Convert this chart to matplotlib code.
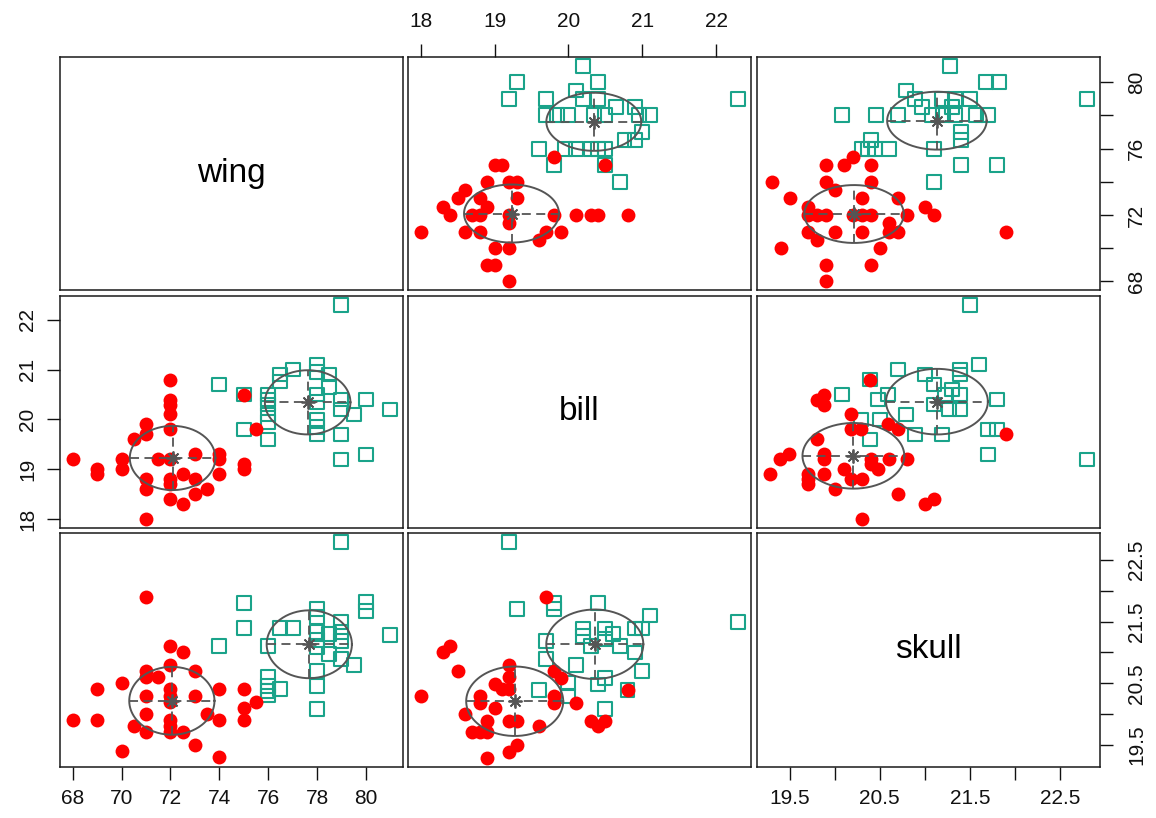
import numpy as np
import matplotlib
matplotlib.use("Agg")
import matplotlib.pyplot as plt

plt.rcParams["font.family"] = ["Liberation Sans", "DejaVu Sans"]

VARS = ["wing", "bill", "skull"]
RED = "#FF0000"
TEAL = "#1AA38A"
GREY = "#555555"

# wing vs bill
wb_red_wing = [68, 69, 69, 70, 70, 70.5, 71, 71, 71, 71, 71, 71.5, 72, 72, 72, 72, 72, 72, 72, 72, 72,
               72.5, 72.5, 73, 73, 73, 73.5, 74, 74, 74, 75, 75, 75, 75.5]
wb_red_bill = [19.2, 19.0, 18.9, 19.2, 19.0, 19.6, 19.9, 19.7, 18.8, 18.6, 18.0, 19.2, 20.8, 20.4, 20.3,
               20.1, 19.8, 19.2, 18.8, 18.7, 18.4, 18.9, 18.3, 19.3, 18.8, 18.5, 18.6, 19.3, 19.2, 18.9,
               19.1, 19.0, 20.5, 19.8]
wb_teal_wing = [79, 74, 75, 75, 76, 76, 76, 76, 76, 76, 76.5, 76.5, 77, 78, 78, 78, 78, 78, 78, 78, 78.5,
                78.5, 79, 79, 79, 79, 79.5, 80, 80, 81]
wb_teal_bill = [22.3, 20.7, 20.5, 19.8, 20.5, 20.4, 20.3, 20.1, 19.95, 19.6, 20.9, 20.76, 21.0, 21.1, 20.95,
                20.5, 20.35, 20.0, 19.85, 19.7, 20.9, 20.65, 20.4, 20.2, 19.7, 19.2, 20.1, 20.4, 19.3, 20.2]

# wing vs skull
ws_red_wing = [68, 69, 69, 70, 70, 70.5, 71, 71, 71, 71, 71, 71, 71.5, 72, 72, 72, 72, 72, 72, 72, 72,
               72.5, 72.5, 73, 73, 73, 73.5, 74, 74, 74, 75, 75, 75, 75.5]
ws_red_skull = [19.9, 20.4, 19.9, 20.5, 19.4, 19.8, 21.9, 20.7, 20.6, 20.3, 20.0, 19.7, 20.6, 21.1, 20.8,
                20.4, 20.3, 20.2, 19.9, 19.8, 19.7, 21.0, 19.7, 20.7, 20.3, 19.5, 20.0, 20.4, 19.9, 19.3,
                20.4, 20.1, 19.9, 20.2]
ws_teal_wing = [79, 75, 75, 74, 76, 76, 76, 76, 76.5, 76, 76.5, 77, 78, 78, 78, 78, 78, 78, 78, 78,
                78.5, 78.5, 79, 79, 79, 79, 79.5, 80, 80, 81]
ws_teal_skull = [22.8, 21.8, 21.4, 21.1, 20.6, 20.45, 20.37, 20.3, 20.4, 21.1, 21.4, 21.4, 21.7, 21.57,
                 21.33, 21.2, 21.08, 20.7, 20.46, 20.08, 21.3, 20.97, 21.5, 21.33, 21.19, 20.89, 20.79,
                 21.82, 21.68, 21.28]

# bill vs skull
bs_red_bill = [18.0, 18.3, 18.4, 18.5, 18.6, 18.7, 18.8, 18.8, 18.8, 18.9, 18.9, 18.9, 19.0, 19.0, 19.1,
               19.2, 19.2, 19.2, 19.2, 19.3, 19.3, 19.2, 19.6, 19.7, 19.8, 19.8, 19.8, 19.9, 20.1, 20.3,
               20.4, 20.5, 20.8]
bs_red_skull = [20.3, 21.0, 21.1, 20.7, 20.0, 19.7, 20.3, 20.18, 19.7, 19.88, 19.7, 19.28, 20.48, 20.1,
                20.4, 20.8, 20.6, 19.88, 19.39, 19.88, 19.49, 20.4, 19.8, 21.9, 20.7, 20.29, 20.18, 20.59,
                20.18, 19.88, 19.8, 19.88, 20.39]
bs_teal_bill = [19.2, 19.3, 19.8, 19.8, 19.7, 19.7, 19.6, 20.0, 20.0, 20.1, 20.2, 20.2, 20.3, 20.4, 20.4,
                20.5, 20.5, 20.5, 20.5, 20.6, 20.7, 20.8, 20.9, 20.9, 21.0, 21.0, 21.1, 22.3]
bs_teal_skull = [22.8, 21.7, 21.8, 21.7, 21.19, 20.89, 20.39, 20.5, 20.29, 20.79, 21.39, 21.27, 21.1, 21.8,
                 20.48, 21.39, 21.22, 20.59, 20.08, 21.3, 21.1, 20.39, 21.39, 21.0, 21.39, 20.7, 21.6, 21.5]

PAIRS = {
    (0, 1): [(wb_red_wing, wb_red_bill), (wb_teal_wing, wb_teal_bill)],
    (0, 2): [(ws_red_wing, ws_red_skull), (ws_teal_wing, ws_teal_skull)],
    (1, 2): [(bs_red_bill, bs_red_skull), (bs_teal_bill, bs_teal_skull)],
}

wing_ticks = [68, 70, 72, 74, 76, 78, 80]
bill_ticks = [18, 19, 20, 21, 22]
skull_ticks = [19.5, 20, 20.5, 21, 21.5, 22, 22.5]


def var_lims():
    vals = {0: [], 1: [], 2: []}
    for (a, b), groups in PAIRS.items():
        for xs, ys in groups:
            vals[a] += list(xs)
            vals[b] += list(ys)
    lims = {}
    for k, v in vals.items():
        lo, hi = min(v), max(v)
        pad = 0.04 * (hi - lo)
        lims[k] = (lo - pad, hi + pad)
    return lims


LIMS = var_lims()


def pooled_sd(groups):
    # within-group spread, pooled over the two groups
    dev = []
    for xs, ys in groups:
        d = np.column_stack([xs, ys]).astype(float)
        dev.append(d - d.mean(axis=0))
    dev = np.vstack(dev)
    return np.sqrt((dev ** 2).sum(axis=0) / (len(dev) - len(groups)))


def draw_ellipse(ax, xs, ys, sd):
    mx, my = np.mean(xs), np.mean(ys)
    sx, sy = sd
    t = np.linspace(0, 2 * np.pi, 200)
    ax.plot(mx + sx * np.cos(t), my + sy * np.sin(t), color=GREY, lw=1.4, zorder=4)
    ax.plot([mx - sx, mx + sx], [my, my], color=GREY, lw=1.3, ls=(0, (5, 3)), zorder=4)
    ax.plot([mx, mx], [my - sy, my + sy], color=GREY, lw=1.3, ls=(0, (5, 3)), zorder=4)
    ax.plot(mx, my, marker=(8, 2, 0), ms=10, mew=1.3, color=GREY, zorder=5)


def set_ticks(ax, axis, var, labels_every=1, pad=8):
    ticks = [wing_ticks, bill_ticks, skull_ticks][var]
    labels = []
    for k, v in enumerate(ticks):
        if k % labels_every == 0:
            labels.append(f"{v:g}")
        else:
            labels.append("")
    if axis == "x":
        ax.set_xticks(ticks)
        ax.set_xticklabels(labels, fontsize=15)
        ax.tick_params(axis="x", pad=pad)
    else:
        ax.set_yticks(ticks)
        ax.set_yticklabels(labels, rotation=90, va="center", fontsize=15)
        ax.tick_params(axis="y", pad=pad)


W, H = 1156, 818
col_x = [(60, 403), (408, 751), (757, 1100)]
row_y = [(57, 290), (296, 528), (533, 767)]

fig = plt.figure(figsize=(W / 100, H / 100), dpi=100)
axes = {}
for i in range(3):
    for j in range(3):
        x0, x1 = col_x[j]
        y0, y1 = row_y[i]
        ax = fig.add_axes([x0 / W, 1 - y1 / H, (x1 - x0) / W, (y1 - y0) / H])
        ax.set_xlim(*LIMS[j])
        ax.set_ylim(*LIMS[i])
        ax.set_xticks([])
        ax.set_yticks([])
        for sp in ax.spines.values():
            sp.set_linewidth(1.1)
            sp.set_color("#1a1a1a")
        ax.tick_params(direction="out", length=9.5, width=1.0, colors="#111111")
        axes[(i, j)] = ax

        if i == j:
            ax.text(0.5, 0.5, VARS[i], transform=ax.transAxes, ha="center", va="center", fontsize=24)
            continue

        key = (min(i, j), max(i, j))
        groups = PAIRS[key]
        sd = pooled_sd(groups)
        if j > i:
            # upper panel: x is the second variable of the pair
            groups = [(ys, xs) for xs, ys in groups]
            sd = sd[::-1]
        (rx, ry), (tx, ty) = groups
        ax.scatter(tx, ty, marker="s", s=100, facecolors="none", edgecolors=TEAL, linewidths=1.5, zorder=2)
        ax.scatter(rx, ry, marker="o", s=100, color=RED, linewidths=0, zorder=3)
        draw_ellipse(ax, rx, ry, sd)
        draw_ellipse(ax, tx, ty, sd)

# outer axes like R pairs()
a = axes[(2, 0)]
set_ticks(a, "x", 0, pad=6)
a = axes[(0, 1)]
a.xaxis.set_ticks_position("top")
set_ticks(a, "x", 1, pad=9)
a = axes[(2, 2)]
set_ticks(a, "x", 2, labels_every=2, pad=6)
a.yaxis.set_ticks_position("right")
set_ticks(a, "y", 2, labels_every=2, pad=10)
a = axes[(1, 0)]
set_ticks(a, "y", 1, pad=7)
a = axes[(0, 2)]
a.yaxis.set_ticks_position("right")
set_ticks(a, "y", 0, labels_every=2, pad=10)

fig.savefig("out.png", dpi=100, facecolor="white")
